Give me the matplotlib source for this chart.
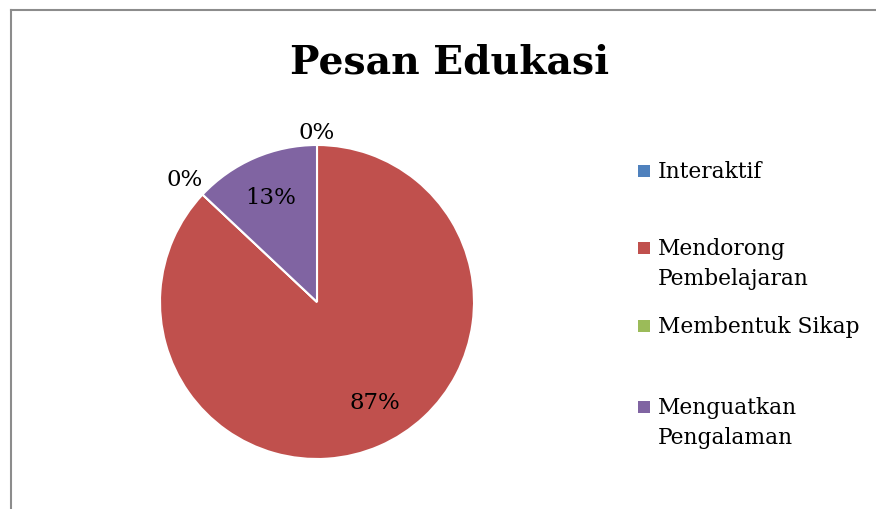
import numpy as np
import matplotlib
matplotlib.use("Agg")
import matplotlib.pyplot as plt
from matplotlib.patches import Rectangle
from matplotlib.lines import Line2D

categories = ["Interaktif", "Mendorong\nPembelajaran", "Membentuk Sikap", "Menguatkan\nPengalaman"]
values = [0, 87, 0, 13]
colors = ["#4F81BD", "#C0504D", "#9BBB59", "#8064A2"]
title = "Pesan Edukasi"

W, H = 876, 510
fig = plt.figure(figsize=(W / 100, H / 100), dpi=100)
fig.patch.set_facecolor("white")

# chart frame (top and left visible; cropped at right/bottom)
fig.add_artist(Line2D([11 / W, 11 / W], [0, 1 - 11 / H], color="#8c8c8c", lw=1.5))
fig.add_artist(Line2D([11 / W, 1], [1 - 11 / H, 1 - 11 / H], color="#8c8c8c", lw=1.5))

serif = ["DejaVu Serif"]

cx, cy, r = 317, 303, 157
ax = fig.add_axes([(cx - r) / W, (H - cy - r) / H, 2 * r / W, 2 * r / H])
wedges, _ = ax.pie(values, colors=colors, startangle=90, counterclock=False,
                   radius=1.0, wedgeprops=dict(edgecolor="white", linewidth=1.5))
ax.set_xlim(-1, 1)
ax.set_ylim(-1, 1)
ax.set_aspect("equal")
ax.axis("off")

total = sum(values)
dists = [1.09, 0.73, 1.16, 0.74]
shift = [0, 7, 0, 0]
for w, v, d, s in zip(wedges, values, dists, shift):
    ang = np.deg2rad((w.theta1 + w.theta2) / 2 + s)
    ax.text(d * np.cos(ang), d * np.sin(ang) - 0.01, f"{round(100 * v / total)}%",
            ha="center", va="center", fontsize=16.5, family=serif, color="black")

fig.text(450 / W, 1 - 62 / H, title, ha="center", va="center", fontsize=28.3,
         fontweight="bold", family=serif)

# legend
tops = [172, 249, 327, 408]
for lab, col, y in zip(categories, colors, tops):
    fig.add_artist(Rectangle(((638) / W, 1 - (y + 6) / H), 12 / W, 12 / H,
                             transform=fig.transFigure, facecolor=col, edgecolor="none"))
    fig.text(658 / W, 1 - (y - 11) / H, lab, ha="left", va="top", fontsize=15.7,
             family=serif, linespacing=1.45)

fig.savefig("out.png", dpi=100)
